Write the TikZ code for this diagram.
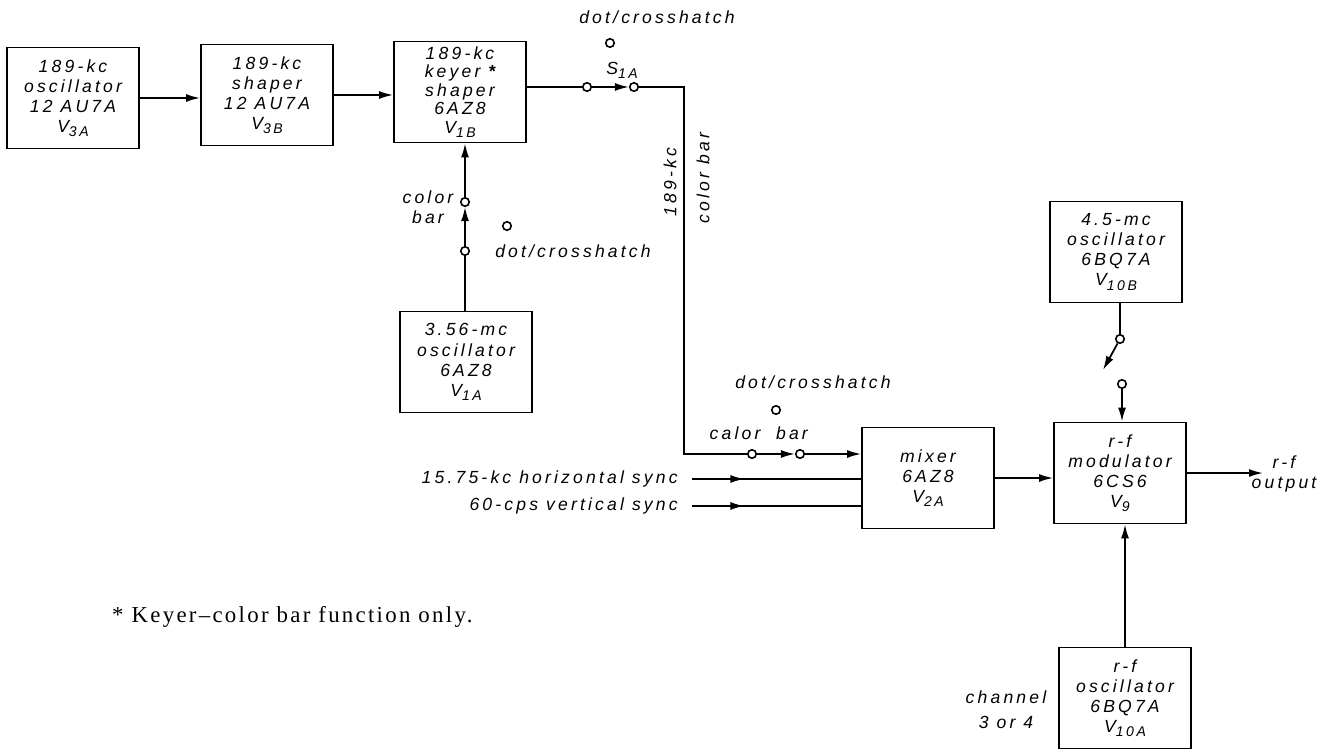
\documentclass[tikz,border=0pt]{standalone}
\usepackage{fontspec}
\setsansfont{Liberation Sans}[LetterSpace=18]
\newfontfamily\notefont{Liberation Serif}[LetterSpace=10]
\usetikzlibrary{arrows.meta,positioning,calc,decorations.markings}
\newcommand\tubesub[2]{#1\raisebox{-0.45ex}{\fontsize{8}{8}\selectfont #2}}

\begin{document}
\begin{tikzpicture}[x=0.2mm, y=-0.2mm,
    >={Latex[length=2.8mm,width=1.6mm]},
    every node/.style={font=\sffamily\itshape\fontsize{10}{11.4}\selectfont},
    blk/.style={draw, line width=1pt, minimum width=2.64cm, minimum height=2.02cm, align=center, inner sep=1pt},
    sw/.style={draw, circle, line width=0.9pt, inner sep=0pt, minimum size=1.7mm, fill=white},
    lbl/.style={align=center, inner sep=1pt},
    wire/.style={line width=1pt},
    midarrow/.style={postaction={decorate}, decoration={markings, mark=at position #1 with {\arrow{Latex[length=2.8mm,width=1.6mm]}}}}]
    \useasboundingbox (0,0) rectangle (1325,753);
    \node[blk] (v3a) at (73,98) {189-kc\\oscillator\\12 AU7A\\\tubesub{V}{3A}};
    \node[blk] (v3b) at (267,95) {189-kc\\shaper\\12 AU7A\\\tubesub{V}{3B}};
    \node[blk, font=\sffamily\itshape\fontsize{10}{10.6}\selectfont] (v1b) at (460,92) {189-kc\\keyer \textbf{*}\\shaper\\6AZ8\\\tubesub{V}{1B}};
    \node[blk] (v1a) at (466,362) {3.56-mc\\oscillator\\6AZ8\\\tubesub{V}{1A}};
    \node[blk] (v2a) at (928,478) {mixer\\6AZ8\\\tubesub{V}{2A}};
    \node[blk] (v9) at (1120,473) {r-f\\modulator\\6CS6\\\tubesub{V}{9}};
    \node[blk] (v10b) at (1116,252) {4.5-mc\\oscillator\\6BQ7A\\\tubesub{V}{10B}};
    \node[blk] (v10a) at (1125,698) {r-f\\oscillator\\6BQ7A\\\tubesub{V}{10A}};
    % switch S1A
    \node[sw] (s1) at (587,87) {};
    \node[sw] (s2) at (634,87) {};
    \node[sw] (sdot) at (610,43) {};
    \node[lbl] (sdotlbl) at (657,17) {dot/crosshatch};
    \node[lbl] (s1a) at (622,70) {\tubesub{S}{1A}};
    \node[lbl, rotate=90] (cbar1) at (670,182) {189-kc};
    \node[lbl, rotate=90] (cbar2) at (703,178) {color bar};
    % keyer switch
    \node[sw] (k1) at (465,202) {};
    \node[sw] (k2) at (465,251) {};
    \node[sw] (kdot) at (507,226) {};
    \node[lbl] (klbl) at (428,207) {color\\bar};
    \node[lbl] (kdotlbl) at (573,251) {dot/crosshatch};
    % mixer switch
    \node[sw] (c1) at (752,454) {};
    \node[sw] (c2) at (800,454) {};
    \node[sw] (cdot) at (776,410) {};
    \node[lbl] (cdotlbl) at (813,382) {dot/crosshatch};
    \node[lbl] (clbl1) at (735,433) {calor};
    \node[lbl] (clbl2) at (792,433) {bar};
    \node[lbl, anchor=east, inner xsep=2.8mm] (hsync) at (692,479) {15.75-kc horizontal sync};
    \node[lbl, anchor=east, inner xsep=2.8mm] (vsync) at (692,506) {60-cps vertical sync};
    % 4.5-mc switch
    \node[sw] (m1) at (1120,339) {};
    \coordinate (arm) at (1103,370);
    \node[sw] (m2) at (1122,384) {};
    \coordinate (rfout) at (1263,473);
    \node[lbl] (rfoutlbl) at (1284,474) {r-f\\output};
    \node[lbl] (chlbl) at (1006,710) {channel\\[1mm]3 or 4};
    \node[anchor=west, font=\notefont\fontsize{13}{15}\selectfont] (note) at (106,617) {* Keyer–color bar function only.};

    \draw[wire, ->] (v3a.east) -- (v3a.east -| v3b.west);
    \draw[wire, ->] (v3b.east) -- (v3b.east -| v1b.west);
    \draw[wire] (s1 -| v1b.east) -- (s1);
    \draw[wire, ->] (s1) -- (s2);
    \draw[wire] (s2) -- ++(50,0) |- (c1);
    \draw[wire, ->] (c1) -- (c2);
    \draw[wire, ->] (c2) -- (c2 -| v2a.west);
    \draw[wire] (v1a.north -| k2) -- (k2);
    \draw[wire, ->] (k2) -- (k1);
    \draw[wire, ->] (k1) -- (k1 |- v1b.south);
    \draw[wire, midarrow=0.31] (hsync.east) -- (hsync.east -| v2a.west);
    \draw[wire, midarrow=0.31] (vsync.east) -- (vsync.east -| v2a.west);
    \draw[wire, ->] (v2a.east) -- (v2a.east -| v9.west);
    \draw[wire] (v10b.south -| m1) -- (m1);
    \draw[wire, ->] (m1) -- (arm);
    \draw[wire, ->] (m2) -- (m2 |- v9.north);
    \draw[wire, ->] (v9.east) -- (rfout);
    \draw[wire, ->] (v10a.north) -- (v10a.north |- v9.south);
\end{tikzpicture}
\end{document}
